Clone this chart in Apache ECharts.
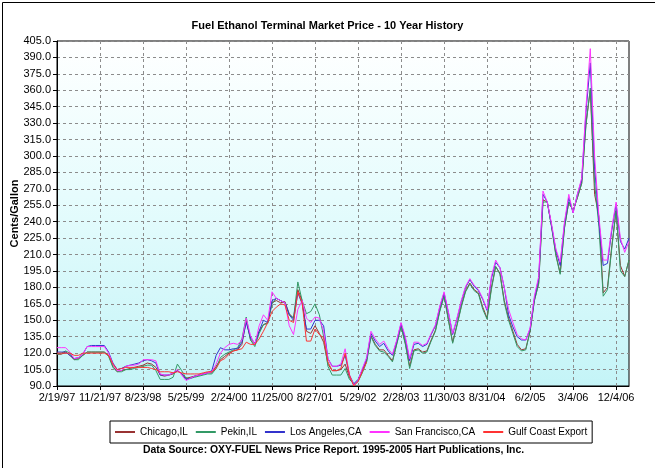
<!DOCTYPE html>
<html>
<head>
<meta charset="utf-8">
<script src="https://cdn.jsdelivr.net/npm/echarts@6/dist/echarts.min.js"></script>
<style>
html,body{margin:0;padding:0;background:#fff;}
#chart{width:655px;height:468px;}
</style>
</head>
<body>
<div id="chart"></div>
<script>
// ---- Data ----
const tickLabels = ['2/19/97','11/21/97','8/23/98','5/25/99','2/24/00','11/25/00','8/27/01','5/29/02','2/28/03','11/30/03','8/31/04','6/2/05','3/4/06','12/4/06'];
const seriesNames = ['Chicago,IL','Pekin,IL','Los Angeles,CA','San Francisco,CA','Gulf Coast Export'];

const chicago = [
 119,119,121,118,114,115,118,121,121,121,
 121,121,118,108,103,104,105,106,107,108,
 109,111,110,107,100,99,100,101,104,101,
 97,98,99,100,101,102,102,108,114,117,
 120,122,123,128,150,132,128,140,146,148,
 166,168,166,167,156,152,178,168,140,138,
 145,138,130,110,104,104,105,110,98,91,
 95,104,113,136,128,123,123,118,113,129,
 145,129,108,123,124,121,122,132,141,159,
 173,151,130,146,163,177,184,178,175,162,
 152,180,199,193,168,152,140,128,123,124,
 140,168,184,260,258,236,210,193,235,258,
 250,262,275,330,360,265,245,175,180,218,
 250,200,190,205];
const pekin = [
 119,120,122,120,114,114,118,121,121,121,
 121,121,117,107,103,103,105,105,106,107,
 108,109,109,104,96,96,96,98,110,104,
 97,97,98,99,100,101,101,106,116,119,
 121,123,125,133,153,132,126,138,146,147,
 165,170,168,166,155,152,185,168,156,158,
 165,155,135,108,100,100,100,106,96,92,
 94,102,112,135,127,122,121,117,112,128,
 144,128,106,122,123,120,121,131,140,158,
 172,150,129,145,162,176,183,177,174,160,
 151,178,199,192,166,150,138,126,122,123,
 140,168,183,258,258,235,209,192,234,258,
 250,262,275,328,362,275,236,172,178,216,
 250,195,190,205];
const losAngeles = [
 121,121,121,118,115,116,119,126,127,127,
 127,127,121,111,105,106,108,109,110,111,
 113,114,113,111,100,100,100,102,104,101,
 96,97,99,100,101,102,104,118,125,123,
 123,124,124,130,148,134,129,140,150,148,
 168,170,168,166,155,150,175,165,142,142,
 150,150,145,115,108,108,109,118,100,92,
 96,105,115,138,131,126,129,122,118,131,
 147,133,113,128,129,126,128,137,145,162,
 175,157,137,151,167,180,187,181,177,169,
 159,188,203,198,180,155,144,135,132,132,
 142,170,188,265,258,236,214,200,238,262,
 248,265,278,340,385,290,240,200,202,232,
 256,222,215,225];
const sanFrancisco = [
 125,125,125,121,115,116,119,126,126,126,
 126,126,120,110,104,104,108,109,109,110,
 114,114,114,113,101,100,100,102,105,100,
 95,97,99,100,101,102,103,110,120,125,
 128,129,128,132,152,136,128,145,155,150,
 176,170,168,166,145,137,160,168,152,148,
 153,152,140,115,108,108,110,124,100,91,
 95,106,116,140,133,128,131,124,119,132,
 148,135,115,130,130,127,129,138,146,163,
 176,158,138,152,168,181,188,182,178,170,
 160,190,205,198,180,160,148,137,133,132,
 143,172,190,268,258,238,215,203,240,265,
 248,265,280,345,398,300,245,205,205,235,
 258,225,212,222];
const gulfCoast = [
 120,120,120,120,118,118,120,120,120,120,
 120,120,118,110,105,106,107,107,107,107,
 107,107,106,105,103,103,103,102,103,102,
 101,101,101,101,102,103,103,106,113,115,
 119,122,123,124,130,128,128,133,140,148,
 158,162,165,164,150,148,176,166,131,131,
 142,137,134,112,104,104,106,120,100,90,
 94,103,112];

// ---- Categories: one sample every 27.5 days, tick labels every 10 samples ----
const N = sanFrancisco.length;
const start = new Date(1997, 1, 19);
function fmt(d){ return (d.getMonth()+1) + '/' + d.getDate() + '/' + String(d.getFullYear()).slice(2); }
const categories = [];
for (let i = 0; i < N; i++) {
  if (i % 10 === 0 && tickLabels[i/10]) { categories.push(tickLabels[i/10]); }
  else { const d = new Date(start.getTime()); d.setDate(d.getDate() + Math.round(i*27.5)); categories.push(fmt(d)); }
}

const colors = ['#993333','#339966','#3333cc','#ff33ff','#ff3333'];
const allData = [chicago, pekin, losAngeles, sanFrancisco, gulfCoast];
const FONT = '"Liberation Sans", Arial, sans-serif';

const chart = echarts.init(document.getElementById('chart'), null, {renderer:'canvas'});
const option = {
  animation: false,
  backgroundColor: '#ffffff',
  textStyle: {fontFamily: FONT},
  title: {
    text: 'Fuel Ethanol Terminal Market Price - 10 Year History',
    left: 'center', top: 15,
    textStyle: {fontSize: 11, fontWeight: 'bold', color: '#000', fontFamily: FONT}
  },
  grid: {
    left: 57, right: 26, top: 41, bottom: 82,
    show: true, borderColor: '#000', borderWidth: 1,
    backgroundColor: {type:'linear', x:0, y:0, x2:0, y2:1,
      colorStops:[{offset:0, color:'#ffffff'},{offset:0.45, color:'#e6fcfd'},{offset:1, color:'#c4f4f7'}]},
    outerBoundsMode: 'none'
  },
  legend: {
    data: seriesNames.map(n => ({name: n, icon: 'rect'})),
    left: 110, top: 421,
    orient: 'horizontal',
    borderColor: '#000', borderWidth: 1,
    padding: [5, 5],
    itemGap: 8, itemWidth: 20, itemHeight: 2,
    textStyle: {fontSize: 10, color: '#000', fontFamily: FONT, lineHeight: 12}
  },
  xAxis: {
    type: 'category', data: categories, boundaryGap: false,
    axisLine: {lineStyle: {color: '#000', width: 1}},
    axisTick: {show: true, interval: 9, length: 4, lineStyle: {color: '#000'}},
    axisLabel: {interval: 9, fontSize: 11, color: '#000', margin: 6, fontFamily: FONT},
    splitLine: {show: true, interval: 9, lineStyle: {color: '#8c8c8c', type: [3,3], width: 1}}
  },
  yAxis: {
    type: 'value', min: 90, max: 405, interval: 15,
    name: 'Cents/Gallon', nameLocation: 'middle', nameGap: 37, nameRotate: 90,
    nameMoveOverlap: false,
    nameTextStyle: {fontSize: 11, fontWeight: 'bold', color: '#000', fontFamily: FONT},
    axisLine: {show: true, lineStyle: {color: '#000', width: 1}},
    axisTick: {show: true, length: 4, lineStyle: {color: '#000'}},
    axisLabel: {fontSize: 11, color: '#000', margin: 6, fontFamily: FONT, formatter: v => v.toFixed(1)},
    splitLine: {show: true, lineStyle: {color: '#8c8c8c', type: [3,3], width: 1}}
  },
  series: seriesNames.map((name, k) => ({
    name: name, type: 'line', data: allData[k],
    symbol: 'none', showSymbol: false, connectNulls: false,
    color: colors[k],
    lineStyle: {width: 1, color: colors[k]},
    emphasis: {disabled: true}
  })),
  graphic: [
    {type: 'text', left: 143, top: 445, style: {
      text: 'Data Source: OXY-FUEL News Price Report. 1995-2005 Hart Publications, Inc.',
      font: 'bold 10.4px ' + FONT, fill: '#000'}},
    {type: 'rect', left: 0, top: 0, silent: true, shape: {x: 0.5, y: 0.5, width: 653, height: 466},
      style: {fill: 'none', stroke: '#000', lineWidth: 1}}
  ]
};
chart.setOption(option);
</script>
</body>
</html>
